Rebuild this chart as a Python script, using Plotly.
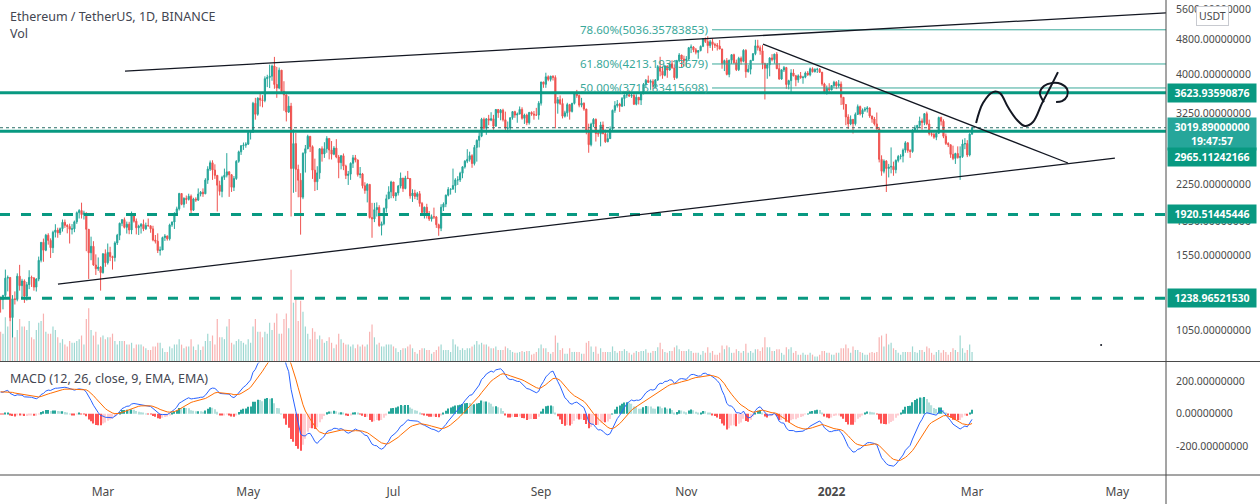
import math
import pandas as pd
import plotly.graph_objects as go

# ---------------- DATA (ETH/USDT daily, Binance) ----------------
start_date = "2021-01-17"
first_open = 1233

closes = [
    # Jan 2021 (17-31)
    1231,1258,1377,1382,1121,1236,1232,1391,1324,1357,1253,1331,1382,1378,1314,
    # Feb
    1370,1511,1660,1593,1723,1677,1614,1750,1770,1744,1783,1843,1814,1804,1778,1781,1848,1938,1960,1919,1935,1777,1572,1626,1475,1446,1459,1417,
    # Mar
    1564,1492,1575,1541,1533,1655,1723,1834,1869,1795,1825,1771,1924,1854,1791,1806,1823,1782,1813,1809,1781,1680,1670,1591,1595,1702,1716,1691,1818,1846,1919,
    # Apr
    1977,2142,2024,2089,2077,2112,1964,2082,2070,2136,2157,2139,2298,2434,2515,2421,2355,2237,2166,2331,2357,2399,2363,2213,2316,2534,2663,2748,2757,2772,
    # May
    2945,2950,3431,3240,3524,3490,3482,3902,3928,3952,4168,3785,3715,4079,3650,3586,3277,3381,2441,2780,2430,2296,2102,2643,2706,2888,2736,2420,2278,2386,2706,
    # Jun
    2634,2707,2856,2689,2630,2715,2592,2517,2609,2472,2354,2371,2508,2581,2551,2364,2373,2231,2177,2247,1889,1876,1969,1991,1812,1829,1983,2084,2161,2275,
    # Jul
    2114,2149,2227,2322,2198,2323,2316,2116,2147,2110,2140,2034,1940,1994,1917,1875,1898,1895,1820,1787,1994,2027,2124,2188,2191,2233,2300,2300,2382,2462,2536,
    # Aug
    2560,2610,2505,2725,2828,2890,3157,3012,3163,3142,3164,3045,3322,3265,3310,3148,3013,3017,3182,3285,3227,3243,3323,3173,3226,3100,3271,3245,3227,3226,3433,
    # Sep
    3834,3789,3940,3887,3953,3927,3431,3497,3427,3208,3264,3408,3289,3430,3612,3572,3398,3434,3329,2978,2764,3078,3155,2930,2925,3063,2927,2807,2853,3001,
    # Oct
    3307,3390,3418,3380,3518,3581,3587,3562,3575,3414,3541,3490,3605,3787,3867,3828,3847,3745,3877,4155,4056,3972,4169,4082,4217,4131,3922,4287,4414,4323,4288,
    # Nov
    4323,4586,4605,4535,4477,4518,4620,4812,4735,4637,4730,4667,4648,4625,4556,4220,4288,3990,4298,4422,4241,4089,4341,4272,4525,4045,4100,4294,4445,4631,
    # Dec
    4587,4511,4224,4119,4198,4347,4310,4435,4111,3895,4084,4134,3785,3862,4020,3960,3880,3960,3923,3933,4019,3981,4109,4046,4094,4098,4037,3795,3627,3713,3677,
    # Jan 2022
    3765,3829,3761,3793,3540,3410,3195,3080,3155,3083,3238,3372,3244,3309,3330,3349,3211,3161,3081,3000,2561,2406,2537,2441,2459,2468,2425,2546,2599,2604,2688,
    # Feb 2022
    2791,2680,2667,2982,3017,3058,3130,3103,3250,3079,2927,2916,2874,2935,3186,3124,2889,2783,2763,2628,2573,2639,2584,2597,2775,2780,2620,2921,
    # Mar 1 2022
    3019.89,
]

highs = [
    1250,1262,1440,1396,1383,1260,1285,1412,1476,1372,1368,1350,1435,1395,1385,
    1377,1541,1660,1693,1735,1741,1695,1764,1825,1792,1794,1870,1870,1825,1830,1826,1860,1950,1974,2042,1958,1939,1780,1710,1670,1559,1534,1466,
    1568,1600,1650,1622,1548,1669,1735,1840,1875,1890,1850,1848,1950,1934,1880,1820,1836,1870,1840,1880,1815,1810,1725,1740,1624,1710,1733,1720,1830,1850,1943,
    2000,2150,2145,2100,2120,2140,2131,2095,2100,2200,2170,2200,2320,2470,2545,2548,2495,2360,2290,2350,2440,2645,2405,2370,2346,2550,2680,2760,2795,2800,
    2950,2985,3457,3530,3540,3600,3580,3950,3982,4199,4200,4372,4150,4135,4083,3850,3590,3560,3439,2995,2940,2490,2382,2655,2760,2912,2891,2754,2570,2470,2714,
    2740,2800,2890,2857,2817,2743,2845,2620,2620,2640,2490,2410,2520,2620,2620,2560,2460,2385,2272,2260,2250,2040,2040,2045,2015,1850,1990,2130,2225,2290,
    2275,2155,2240,2390,2323,2350,2410,2320,2190,2185,2160,2170,2050,2000,2030,1955,1920,1990,1905,1830,2025,2045,2130,2215,2200,2440,2320,2345,2400,2470,2550,
    2700,2665,2630,2760,2840,2950,3180,3185,3175,3230,3275,3230,3330,3330,3330,3335,3285,3120,3186,3295,3300,3270,3375,3360,3250,3250,3280,3290,3295,3350,3470,
    3840,3840,4025,3970,3960,3970,3970,3545,3575,3520,3300,3440,3420,3440,3620,3680,3590,3530,3445,3335,3085,3100,3175,3170,2970,3115,3120,2990,2935,3040,
    3320,3470,3490,3440,3545,3595,3640,3670,3625,3610,3595,3545,3615,3815,3895,3965,3885,3890,3895,4190,4375,4160,4190,4180,4235,4295,4205,4305,4460,4420,4400,
    4390,4605,4665,4625,4580,4530,4640,4825,4838,4868,4780,4810,4705,4700,4775,4560,4310,4345,4305,4435,4445,4310,4375,4380,4550,4550,4190,4300,4460,4780,
    4780,4640,4650,4240,4235,4365,4435,4445,4485,4230,4100,4170,4150,3880,4100,4100,3980,3990,4040,3960,4050,4060,4135,4140,4120,4130,4125,4040,3820,3765,3810,
    3770,3860,3850,3875,3845,3545,3415,3240,3220,3160,3270,3410,3390,3340,3365,3380,3355,3215,3195,3270,3030,2615,2560,2550,2500,2725,2530,2560,2620,2630,2710,
    2815,2800,2700,3000,3060,3060,3200,3170,3260,3285,3150,2975,2945,2950,3200,3200,3155,2930,2800,2765,2750,2650,2740,2740,2840,2860,2830,2935,
    3040,
]

lows = [
    1150,1170,1240,1285,1100,1010,1200,1220,1290,1245,1210,1225,1300,1315,1290,
    1284,1355,1495,1500,1585,1640,1530,1570,1703,1700,1725,1756,1790,1740,1650,1730,1750,1828,1880,1880,1870,1585,1371,1512,1468,1400,1430,1290,
    1410,1461,1478,1505,1440,1502,1637,1679,1806,1785,1738,1732,1732,1840,1730,1725,1738,1760,1770,1805,1745,1669,1650,1570,1550,1595,1672,1675,1676,1800,1780,
    1905,1960,2015,1990,2030,2065,1932,1955,2050,2060,2110,2105,2135,2253,2410,2300,2312,1950,2120,2100,2300,2330,2105,2160,2170,2300,2515,2620,2690,2720,
    2760,2840,2950,3150,3215,3375,3360,3450,3733,3715,3860,3701,3530,3692,3630,3300,3121,3262,1900,2150,2160,2100,1728,2080,2390,2700,2660,2312,2170,2181,2312,
    2530,2580,2650,2560,2558,2616,2575,2320,2430,2420,2310,2240,2300,2448,2520,2340,2320,2200,2140,2045,1880,1700,1845,1900,1800,1721,1815,1940,2080,2090,
    2090,2060,2120,2200,2160,2190,2310,2085,2050,2080,2070,2000,1910,1880,1880,1856,1850,1875,1790,1718,1760,1955,1995,2110,2130,2190,2150,2240,2275,2320,2440,
    2510,2530,2450,2480,2530,2725,2875,2990,2910,3060,3125,2990,3035,3180,3140,3120,2985,2950,2970,3150,3180,3100,3240,3150,3080,3060,3070,3215,3150,3220,3150,
    3390,3720,3720,3850,3845,3865,3010,3250,3400,3170,3185,3200,3150,3270,3410,3530,3360,3360,3300,2918,2650,2740,3030,2810,2880,2740,2920,2790,2800,2850,
    2970,3265,3355,3280,3365,3380,3530,3550,3530,3400,3395,3410,3400,3600,3730,3815,3680,3690,3720,3855,3950,3900,3950,3920,4070,4110,3875,3900,4250,4140,4160,
    4150,4300,4460,4480,4430,4330,4500,4600,4700,4455,4580,4515,4580,4520,4550,4110,4060,3970,3930,4215,4210,4060,4060,4200,4250,3920,4030,3990,4280,4410,
    4520,4420,4100,3500,3900,3950,4270,4220,4100,3880,3880,4040,3700,3690,3640,3950,3750,3820,3900,3800,3910,3960,3950,4030,4030,4020,4020,3760,3600,3590,3620,
    3675,3720,3695,3720,3400,3320,3060,3000,3060,2930,3055,3230,3220,3185,3280,3270,3180,3100,3055,2990,2520,2350,2380,2159,2330,2380,2350,2380,2520,2560,2520,
    2650,2650,2580,2650,2960,2960,3020,2990,3060,3060,2900,2885,2850,2830,2925,3055,2860,2760,2730,2580,2550,2500,2570,2300,2580,2700,2590,2600,
    2910,
]

# volume, thousand ETH
volumes = [
    1600,1500,2400,1900,2700,2800,1300,1700,2300,1900,1900,1700,2200,1300,1200,
    1700,2100,2200,2600,1600,1500,1500,1900,1700,1300,1000,1200,900,800,1100,1000,1000,1100,1200,1400,900,2300,2900,1700,1400,1600,900,1300,
    1400,1200,1300,1300,1500,1100,900,1100,1100,1100,900,900,1000,700,900,900,900,800,700,600,600,800,800,1000,1000,700,500,500,800,700,900,
    900,1200,900,700,800,800,1200,800,600,900,600,800,1100,1500,1100,1400,900,2300,1300,1300,1200,1900,2300,1000,900,1100,1200,1100,1000,900,
    1200,1000,1900,2300,1600,1600,1300,1600,1500,2100,1700,2100,2600,1500,1500,2300,2600,1800,5000,3200,3400,2200,3300,2700,1900,1500,1200,1800,1600,1200,1400,
    1200,1000,1100,1300,1000,700,900,1500,1200,1000,900,900,800,900,700,900,800,900,800,900,1600,2000,1300,900,1000,800,800,900,900,900,
    800,700,500,600,700,700,800,900,700,500,400,600,700,700,600,600,400,500,600,800,900,600,600,600,500,1200,900,800,600,700,600,
    700,700,800,900,1100,900,1000,900,900,800,700,700,800,600,600,600,800,700,600,500,450,450,500,550,500,550,550,350,400,500,700,
    900,700,700,500,400,500,1400,1000,600,700,400,400,700,500,500,500,500,400,400,1000,1100,800,500,800,400,700,500,500,500,500,
    800,550,450,550,550,650,550,450,350,450,550,500,550,550,650,450,450,550,550,750,1000,650,500,450,550,550,750,850,650,550,550,
    550,650,550,450,450,450,350,550,450,750,450,550,350,350,450,850,650,850,750,450,450,650,550,450,550,950,450,550,450,650,
    650,550,750,1300,750,750,550,550,650,650,450,350,750,650,750,450,550,350,350,450,350,350,450,350,250,250,350,550,550,450,450,
    350,350,450,450,700,700,900,700,450,800,600,600,500,450,350,350,450,500,450,500,1300,1400,800,1500,900,1000,700,600,450,350,500,
    500,500,500,800,500,450,600,600,500,800,700,450,350,500,600,450,600,500,350,500,700,600,500,1400,700,450,600,900,
    500,
]

# closes before the visible window (2020-11-15 .. 2021-01-16), used only to warm up the MACD
prior_closes = [
    447,460,481,479,471,509,549,558,609,604,568,518,517,538,575,616,
    587,598,616,569,596,601,591,554,573,559,545,568,590,586,589,636,643,655,659,638,609,634,584,611,626,635,682,730,731,751,737,
    729,774,975,1040,1100,1208,1225,1224,1281,1262,1090,1043,1130,1218,1171,1233,
]

# price axis ticks and x axis labels
price_ticks = [1050, 1550, 1850, 2250, 3250, 4000, 4800, 5600]
macd_ticks = [200, 0, -200]
month_ticks = ["2021-03-01", "2021-05-01", "2021-07-01", "2021-09-01", "2021-11-01",
               "2022-01-01", "2022-03-01", "2022-05-01"]
month_labels = ["Mar", "May", "Jul", "Sep", "Nov", "<b>2022</b>", "Mar", "May"]

# horizontal levels
level_resist = 3623.93590876
level_support = 2965.11242166
level_dash_hi = 1920.51445446
level_dash_lo = 1238.96521530
last_price = 3019.89
fib_levels = [("78.60%", 5036.35783853), ("61.80%", 4213.19313679), ("50.00%", 3716.83415698)]
fib_start = "2021-11-11 19:00"

# trendlines (date, price)
upper_x = ["2021-03-10 06:00", "2022-05-21 11:00"]
upper_y = [4059, 5500]
lower_x = ["2021-02-10 02:00", "2022-04-30 00:00"]
lower_y = [1335, 2578]
desc_x = ["2021-12-03 05:00", "2022-04-10 07:00"]
desc_y = [4671, 2512]

# hand drawn projection (date, price)
sq_x = ["2022-03-02 17:00", "2022-03-05 14:00", "2022-03-09 19:00", "2022-03-12 17:00", "2022-03-16 02:00",
        "2022-03-19 22:00", "2022-03-23 05:00", "2022-03-26 14:00", "2022-03-30 10:00", "2022-04-02 17:00",
        "2022-04-06 02:00"]
sq_y = [3095, 3435, 3638, 3619, 3364, 3144, 3047, 3112, 3435, 3715, 4038]
loop_x = ["2022-03-31 05:00", "2022-03-29 12:00", "2022-03-31 05:00", "2022-04-03 14:00", "2022-04-07 10:00",
          "2022-04-09 22:00", "2022-04-09 22:00", "2022-04-07 19:00", "2022-04-05 07:00"]
loop_y = [3453, 3619, 3755, 3815, 3795, 3697, 3564, 3471, 3453]

x_range = ["2021-01-16 18:00", "2022-05-21 11:00"]

# ---------------- DERIVED ----------------
dates = pd.date_range(start_date, periods=len(closes), freq="D")
opens = [first_open] + closes[:-1]

all_close = pd.Series(prior_closes + closes, dtype=float)
macd_full = all_close.ewm(span=12, adjust=False).mean() - all_close.ewm(span=26, adjust=False).mean()
signal_full = macd_full.ewm(span=9, adjust=False).mean()
hist_full = (macd_full - signal_full).tolist()
n0 = len(prior_closes)
macd_v = macd_full.iloc[n0:].tolist()
signal_v = signal_full.iloc[n0:].tolist()
hist_v = hist_full[n0:]
hist_colors = []
for i in range(n0, len(hist_full)):
    h, p = hist_full[i], hist_full[i - 1]
    if h >= 0:
        hist_colors.append("#26a69a" if h > p else "#b2dfdb")
    else:
        hist_colors.append("#ffcdd2" if h > p else "#ff5252")

vol_colors = ["rgba(38,166,154,0.45)" if c >= o else "rgba(239,83,80,0.45)" for o, c in zip(opens, closes)]

UP = "#26a69a"
DN = "#ef5350"
TEAL = "#089981"
FIBC = "#3aa89a"
FONT = "Noto Sans"
TXT = "#434651"

W, H = 1260, 504
PW = 1166  # plot width
PH = 475   # plot height
sep_px = 361.5

fig = go.Figure()

# volume (base axis of main pane)
fig.add_trace(go.Bar(x=dates, y=volumes, marker=dict(color=vol_colors, line=dict(width=0)),
                     xaxis="x", yaxis="y", hoverinfo="skip", showlegend=False))

# candles
fig.add_trace(go.Candlestick(
    x=dates, open=opens, high=highs, low=lows, close=closes, xaxis="x", yaxis="y3",
    increasing=dict(line=dict(color=UP, width=1), fillcolor=UP),
    decreasing=dict(line=dict(color=DN, width=1), fillcolor=DN),
    whiskerwidth=0, showlegend=False, hoverinfo="skip"))

def hline(price, color, width, dash="solid", x0=None):
    fig.add_trace(go.Scatter(x=[x0 or x_range[0], x_range[1]], y=[price, price], mode="lines",
                             line=dict(color=color, width=width, dash=dash),
                             xaxis="x", yaxis="y3", hoverinfo="skip", showlegend=False))

# fib lines
for name, lv in fib_levels:
    hline(lv, FIBC, 1, x0=fib_start)
# horizontal levels
hline(level_dash_hi, TEAL, 3, dash="10px,11px")
hline(level_dash_lo, TEAL, 3, dash="10px,11px")
hline(last_price, "#2b6f68", 1, dash="dot")
hline(level_resist, TEAL, 3)
hline(level_support, TEAL, 3)

# trendlines
for xs, ys in [(upper_x, upper_y), (lower_x, lower_y), (desc_x, desc_y)]:
    fig.add_trace(go.Scatter(x=xs, y=ys, mode="lines", line=dict(color="#131722", width=1.3),
                             xaxis="x", yaxis="y3", hoverinfo="skip", showlegend=False))
# squiggle
fig.add_trace(go.Scatter(x=sq_x, y=sq_y, mode="lines", line=dict(color="#131722", width=2, shape="spline"),
                         xaxis="x", yaxis="y3", hoverinfo="skip", showlegend=False))
fig.add_trace(go.Scatter(x=loop_x, y=loop_y, mode="lines", line=dict(color="#131722", width=2, shape="spline"),
                         xaxis="x", yaxis="y3", hoverinfo="skip", showlegend=False))
fig.add_trace(go.Scatter(x=["2022-04-24 05:00"], y=[971], mode="markers", marker=dict(color="#131722", size=2),
                         xaxis="x", yaxis="y3", hoverinfo="skip", showlegend=False))

# MACD pane
fig.add_trace(go.Bar(x=dates, y=hist_v, marker=dict(color=hist_colors, line=dict(width=0)),
                     xaxis="x2", yaxis="y2", hoverinfo="skip", showlegend=False))
fig.add_trace(go.Scatter(x=dates, y=macd_v, mode="lines", line=dict(color="#2962ff", width=1),
                         xaxis="x2", yaxis="y2", hoverinfo="skip", showlegend=False))
fig.add_trace(go.Scatter(x=dates, y=signal_v, mode="lines", line=dict(color="#ff6d00", width=1),
                         xaxis="x2", yaxis="y2", hoverinfo="skip", showlegend=False))

log_lo = (1662.2 - 361) / 440.94
log_hi = 1662.2 / 440.94

tickfont = dict(family=FONT, size=10.5, color="#4a4a4a")
fig.update_layout(
    width=W, height=H, margin=dict(l=0, r=W - PW, t=0, b=H - PH),
    paper_bgcolor="white", plot_bgcolor="white", bargap=0.5, showlegend=False,
    xaxis=dict(domain=[0, 1], anchor="y", range=x_range, type="date", showticklabels=False,
               showgrid=False, zeroline=False, rangeslider=dict(visible=False), ticks=""),
    yaxis=dict(domain=[(PH - sep_px) / PH + 0.001, 1], range=[0, 19800], visible=False),
    yaxis3=dict(overlaying="y", anchor="x", side="right", type="log", range=[log_lo, log_hi],
                tickvals=price_ticks, ticktext=[f"{v:.8f}" for v in price_ticks],
                showgrid=False, zeroline=False, ticks="", tickfont=tickfont, ticklabelstandoff=9),
    xaxis2=dict(domain=[0, 1], anchor="y2", range=x_range, type="date", tickvals=month_ticks,
                ticktext=month_labels, showgrid=False, zeroline=False, ticks="",
                tickfont=dict(family=FONT, size=12, color="#4a4a4a"), ticklabelstandoff=8),
    yaxis2=dict(domain=[0, (PH - sep_px - 1) / PH], anchor="x2", side="right", range=[-378, 317],
                tickvals=macd_ticks, ticktext=[f"{v:.8f}" for v in macd_ticks],
                showgrid=False, zeroline=False, ticks="", tickfont=tickfont, ticklabelstandoff=9),
)

LINEC = "#4a4a4a"
xr_full = W / PW
fig.add_shape(type="line", xref="paper", yref="paper", x0=1, x1=1, y0=-(H - PH) / PH, y1=1,
              line=dict(color=LINEC, width=1))
fig.add_shape(type="line", xref="paper", yref="paper", x0=0, x1=xr_full, y0=(PH - sep_px) / PH,
              y1=(PH - sep_px) / PH, line=dict(color=LINEC, width=1))
fig.add_shape(type="line", xref="paper", yref="paper", x0=0, x1=xr_full, y0=0, y1=0,
              line=dict(color=LINEC, width=1))

def py(px):
    return (PH - px) / PH

ann = []
ann.append(dict(text="Ethereum / TetherUS, 1D, BINANCE", x=8 / PW, y=py(17), xref="paper", yref="paper",
                xanchor="left", yanchor="middle", showarrow=False, font=dict(family=FONT, size=12.5, color=TXT)))
ann.append(dict(text="Vol", x=8 / PW, y=py(33), xref="paper", yref="paper",
                xanchor="left", yanchor="middle", showarrow=False, font=dict(family=FONT, size=12.5, color=TXT)))
ann.append(dict(text="MACD (12, 26, close, 9, EMA, EMA)", x=8 / PW, y=py(378), xref="paper", yref="paper",
                xanchor="left", yanchor="middle", showarrow=False, font=dict(family=FONT, size=12.5, color=TXT)))
for name, lv in fib_levels:
    ann.append(dict(text=f"{name}({lv:.8f})", x=fib_start, y=math.log10(lv), xref="x", yref="y3",
                    xanchor="right", yanchor="middle", xshift=-2, showarrow=False,
                    font=dict(family=FONT, size=11.5, color=FIBC)))

def price_label(text, price, color, yshift=0):
    ann.append(dict(text=f"<b>{text}</b>", x=1, y=math.log10(price), xref="paper", yref="y3",
                    xanchor="left", yanchor="middle", xshift=1, yshift=yshift, showarrow=False,
                    bgcolor=color, borderpad=2, width=84, align="center",
                    font=dict(family=FONT, size=10.5, color="white")))

price_label(f"{level_resist:.8f}", level_resist, TEAL)
price_label(f"{last_price:.8f}<br>19:47:57", last_price, UP, yshift=-6)
price_label(f"{level_support:.8f}", level_support, TEAL, yshift=-26)
price_label(f"{level_dash_hi:.8f}", level_dash_hi, TEAL)
price_label(f"{level_dash_lo:.8f}", level_dash_lo, TEAL)

ann.append(dict(text="USDT", x=1212 / PW, y=py(16), xref="paper", yref="paper", xanchor="center",
                yanchor="middle", showarrow=False, bgcolor="white", bordercolor="#c8cad0", borderwidth=1,
                borderpad=2, font=dict(family=FONT, size=10.5, color="#4a4a4a")))
fig.update_layout(annotations=ann)

# page body has a default 8px margin; remove it so the chart sits at the window origin
fig.write_html("out.html", config={"displayModeBar": False},
               post_script="document.body.style.margin='0px';document.body.style.overflow='hidden';")
